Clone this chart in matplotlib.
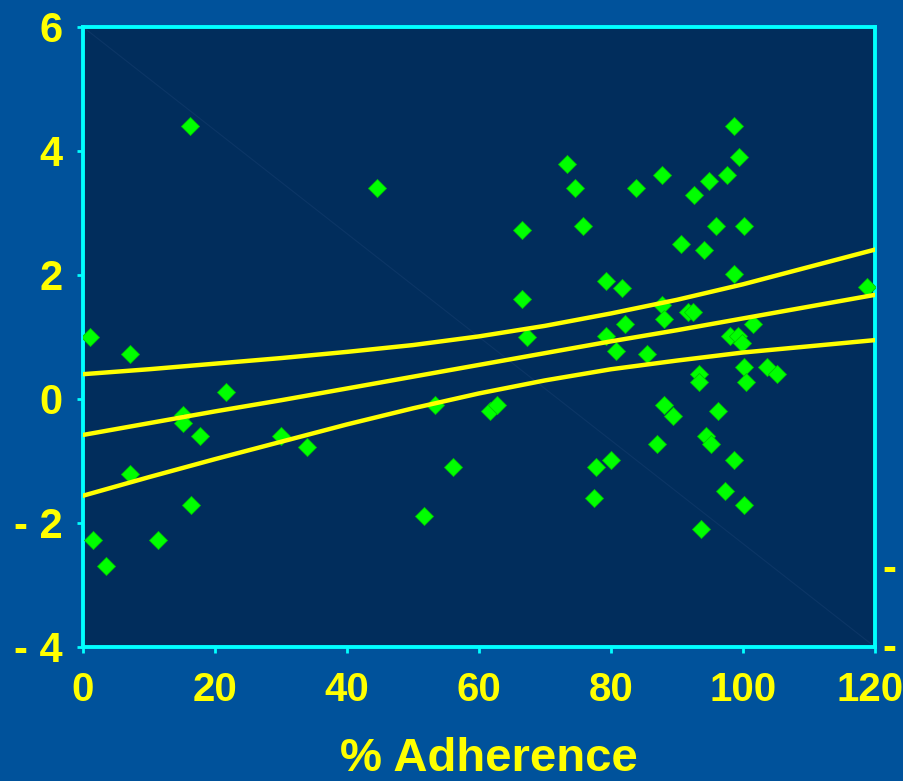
import numpy as np
import matplotlib
matplotlib.use("Agg")
import matplotlib.pyplot as plt
import matplotlib.transforms as mtransforms

# scatter data: % adherence vs change
adherence = [1.1, 1.5, 3.5, 7.1, 7.1, 11.4, 16.2, 15.2, 15.2, 16.3, 17.7, 21.6,
             30.0, 33.9, 44.5, 51.6, 53.3, 56.1, 61.6, 62.7, 66.5, 66.5, 67.2,
             73.3, 74.6, 75.7, 77.5, 77.8, 79.2, 79.2, 80.0, 80.7, 81.7, 82.1,
             83.8, 85.5, 87.0, 87.7, 87.7, 88.1, 88.1, 89.4, 90.6, 91.6, 92.4,
             92.6, 93.4, 93.4, 94.1, 93.7, 94.4, 94.8, 95.2, 95.9, 96.2, 97.3,
             97.6, 98.0, 98.7, 98.7, 98.7, 99.4, 99.3, 99.8, 100.2, 100.1,
             100.1, 100.5, 101.5, 103.6, 105.1, 118.8]
change = [1.00, -2.27, -2.70, 0.73, -1.21, -2.27, 4.40, -0.26, -0.39, -1.71, -0.60, 0.11,
          -0.60, -0.78, 3.40, -1.89, -0.10, -1.09, -0.20, -0.10, 2.73, 1.61, 1.00,
          3.79, 3.40, 2.79, -1.60, -1.10, 1.90, 1.02, -0.99, 0.78, 1.79, 1.21,
          3.40, 0.73, -0.72, 3.62, 1.52, 1.29, -0.10, -0.28, 2.50, 1.40, 1.40,
          3.29, 0.40, 0.28, 2.40, -2.10, -0.60, 3.51, -0.72, 2.79, -0.20, -1.49,
          3.62, 1.02, 4.40, 2.01, -0.99, 3.90, 1.02, 0.91, 0.51, 2.79,
          -1.71, 0.28, 1.21, 0.51, 0.40, 1.80]

# regression line and confidence band read at steps of 10
fit_x = [0, 10, 20, 30, 40, 50, 60, 70, 80, 90, 100, 110, 120]
fit_mid = [-0.58, -0.39, -0.20, -0.02, 0.17, 0.36, 0.55, 0.74, 0.93, 1.11, 1.30, 1.49, 1.68]
fit_up = [0.40, 0.48, 0.57, 0.66, 0.76, 0.87, 1.01, 1.18, 1.38, 1.60, 1.85, 2.13, 2.41]
fit_lo = [-1.56, -1.26, -0.97, -0.69, -0.41, -0.15, 0.09, 0.30, 0.48, 0.62, 0.75, 0.85, 0.95]

xticks = [0, 20, 40, 60, 80, 100, 120]
yticks = [-4, -2, 0, 2, 4, 6]
ytick_labels = ["- 4", "- 2", "0", "2", "4", "6"]

fig_bg = "#00529b"
ax_bg = "#012d5c"
yellow = "#ffff00"
cyan = "#00ffff"

plt.rcParams["font.family"] = ["Liberation Sans", "DejaVu Sans"]
plt.rcParams["font.weight"] = "bold"

fig = plt.figure(figsize=(9.04, 7.81), dpi=100, facecolor=fig_bg)
ax = fig.add_axes([83 / 904, 1 - 647 / 781, 792 / 904, 620 / 781], facecolor=ax_bg)

# faint diagonal artefact across the plot area
ax.plot([0, 1], [1, 0], transform=ax.transAxes, color="#0c3666", lw=0.8, zorder=1)

ax.plot(adherence, change, "D", ms=9.3, color="#00ff00", mec="#00c800", mew=0.6,
        zorder=3)
ax.plot(fit_x, fit_up, color=yellow, lw=3.2, zorder=4)
ax.plot(fit_x, fit_mid, color=yellow, lw=3.2, zorder=4)
ax.plot(fit_x, fit_lo, color=yellow, lw=3.2, zorder=4)

ax.set_xlim(0, 120)
ax.set_ylim(-4, 6)
ax.set_xticks(xticks)
ax.set_xticklabels([str(t) for t in xticks])
ax.set_yticks(yticks)
ax.set_yticklabels(ytick_labels)

for sp in ax.spines.values():
    sp.set_color(cyan)
    sp.set_linewidth(2.8)

ax.tick_params(axis="both", colors=cyan, length=4, width=2, labelcolor=yellow)
ax.tick_params(axis="x", pad=13, labelsize=29)
ax.tick_params(axis="y", pad=11, labelsize=30)
for lab in ax.get_xticklabels() + ax.get_yticklabels():
    lab.set_fontweight("bold")

# last x label sits against the slide edge, nudge it in a little
last = ax.get_xticklabels()[-1]
last.set_transform(last.get_transform() +
                   mtransforms.ScaledTranslation(-5 / 100, 0, fig.dpi_scale_trans))

ax.set_xlabel("% Adherence", color=yellow, fontsize=34, fontweight="bold",
              va="bottom")
ax.xaxis.set_label_coords(0.513, -134 / 620)

# clipped dashes at the right edge of the slide
fig.text(0.984, 1 - 581 / 781, "-", color=yellow, fontsize=30, fontweight="bold",
         ha="center", va="baseline")
fig.text(0.984, 1 - 660 / 781, "-", color=yellow, fontsize=30, fontweight="bold",
         ha="center", va="baseline")

fig.savefig("out.png", dpi=100, facecolor=fig_bg)
